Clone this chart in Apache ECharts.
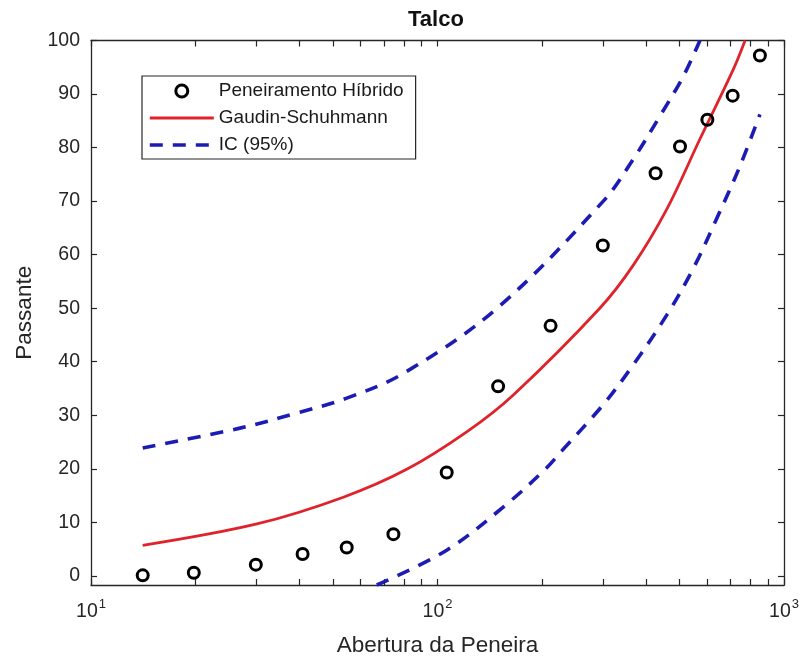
<!DOCTYPE html>
<html>
<head>
<meta charset="utf-8">
<script src="https://cdn.jsdelivr.net/npm/echarts@6/dist/echarts.min.js"></script>
<style>
  html, body { margin: 0; padding: 0; background: #ffffff; }
  #chart { width: 804px; height: 662px; }
</style>
</head>
<body>
<div id="chart"></div>
<script>
// Sieve openings and measured passing fraction (hybrid sieving)
const SIEVE_OPENING = [14.1, 19.8, 29.9, 40.8, 54.7, 74.6, 106.3, 149.6, 212, 300, 426, 501, 601, 711, 852];
const PASSING_MEASURED = [0.1, 0.6, 2.1, 4.1, 5.3, 7.8, 19.3, 35.4, 46.7, 61.7, 75.2, 80.2, 85.2, 89.7, 97.2];

// Gaudin-Schuhmann fitted curve
const FIT_OPENING = [14.1, 30.1, 53.5, 81.5, 122, 165.5, 294, 367, 459, 572, 714, 772];
const FIT_PASSING = [5.7, 9.7, 14.7, 19.9, 27.0, 33.8, 50.0, 58.0, 68.5, 81.6, 94.6, 100.0];

// 95% confidence band
const CI_UPPER_OPENING = [14.1, 26.9, 39.2, 54.7, 79.6, 148, 301, 367, 438.6, 512, 572];
const CI_UPPER_PASSING = [23.9, 27.6, 30.4, 33.2, 37.8, 49.9, 70.0, 77.8, 85.9, 93.3, 100.0];
const CI_LOWER_OPENING = [66.8, 106.3, 158.4, 206.6, 228, 301, 367, 458.6, 547, 639, 747, 852];
const CI_LOWER_PASSING = [-1.7, 4.8, 13.4, 20.2, 23.3, 32.0, 39.4, 48.7, 57.4, 66.7, 76.6, 86.2];

// Axis ticks
const Y_TICKS = [0, 10, 20, 30, 40, 50, 60, 70, 80, 90, 100];
const X_LABEL_TICKS = [10, 100, 1000];
const X_TICKS = [10, 20, 30, 40, 50, 60, 70, 80, 90, 100, 200, 300, 400, 500, 600, 700, 800, 900, 1000];

const TITLE = 'Talco';
const X_NAME = 'Abertura da Peneira';
const Y_NAME = 'Passante';
const NAME_MEASURED = 'Peneiramento Híbrido';
const NAME_FIT = 'Gaudin-Schuhmann';
const NAME_CI = 'IC (95%)';

const pairs = (xs, ys) => xs.map((x, i) => [x, ys[i]]);

const FONT = "'Liberation Sans', Arial, Helvetica, sans-serif";
const INK = '#262626';
const RED = '#e0232b';
const BLUE = '#1c1cb4';

const axisLine = { show: true, onZero: false, lineStyle: { color: INK, width: 1.3 } };
const tickStyle = { show: true, inside: true, length: 6, lineStyle: { color: INK, width: 1.2 } };

const chart = echarts.init(document.getElementById('chart'), null, { renderer: 'canvas' });

chart.setOption({
  backgroundColor: '#ffffff',
  animation: false,
  title: {
    text: TITLE,
    left: 408,
    top: 9,
    padding: 0,
    textStyle: { fontFamily: FONT, fontSize: 22, fontWeight: 'bold', color: '#111111' }
  },
  legend: {
    orient: 'vertical',
    left: 142,
    top: 76,
    padding: [5, 12, 4, 6],
    itemWidth: 64,
    itemHeight: 12,
    itemGap: 7,
    itemTextGap: 5,
    backgroundColor: '#ffffff',
    borderColor: INK,
    borderWidth: 1.2,
    borderRadius: 0,
    itemStyle: { borderWidth: 'inherit' },
    lineStyle: { width: 'inherit' },
    textStyle: { fontFamily: FONT, fontSize: 19, color: '#1a1a1a', lineHeight: 20 },
    data: [
      { name: NAME_MEASURED },
      { name: NAME_FIT, itemStyle: { opacity: 0 } },
      { name: NAME_CI, itemStyle: { opacity: 0 } }
    ]
  },
  grid: { left: 91, right: 20, top: 40.5, bottom: 74, containLabel: false },
  xAxis: [
    {
      type: 'log',
      logBase: 10,
      min: 10,
      max: 1000,
      name: X_NAME,
      nameLocation: 'middle',
      nameGap: 49,
      nameTextStyle: { fontFamily: FONT, fontSize: 22.5, color: INK },
      axisLine: axisLine,
      axisTick: Object.assign({ customValues: X_TICKS }, tickStyle),
      splitLine: { show: false },
      axisLabel: {
        customValues: X_LABEL_TICKS,
        margin: 12.5,
        formatter: function (v) {
          const exp = Math.round(Math.log10(v));
          return '{b|10}{e|' + exp + '}';
        },
        rich: {
          b: { fontFamily: FONT, fontSize: 19.5, color: INK, verticalAlign: 'bottom' },
          e: { fontFamily: FONT, fontSize: 13, color: INK, verticalAlign: 'bottom', padding: [0, 0, 11, 1] }
        }
      }
    },
    {
      type: 'log',
      logBase: 10,
      min: 10,
      max: 1000,
      position: 'top',
      axisLine: axisLine,
      axisTick: Object.assign({ customValues: X_TICKS }, tickStyle),
      axisLabel: { show: false },
      splitLine: { show: false }
    }
  ],
  yAxis: [
    {
      type: 'value',
      min: -1.7,
      max: 100,
      name: Y_NAME,
      nameLocation: 'middle',
      nameGap: 55,
      nameTextStyle: { fontFamily: FONT, fontSize: 22.5, color: INK },
      axisLine: axisLine,
      axisTick: Object.assign({ customValues: Y_TICKS }, tickStyle),
      splitLine: { show: false },
      axisLabel: {
        customValues: Y_TICKS,
        margin: 11,
        fontFamily: FONT,
        fontSize: 19.5,
        color: INK
      }
    },
    {
      type: 'value',
      min: -1.7,
      max: 100,
      position: 'right',
      axisLine: axisLine,
      axisTick: Object.assign({ customValues: Y_TICKS }, tickStyle),
      axisLabel: { show: false },
      splitLine: { show: false }
    }
  ],
  series: [
    {
      name: NAME_FIT,
      type: 'line',
      data: pairs(FIT_OPENING, FIT_PASSING),
      smooth: 0.35,
      symbol: 'none',
      clip: true,
      lineStyle: { color: RED, width: 2.8 },
      itemStyle: { color: RED },
      z: 2
    },
    {
      name: NAME_CI,
      type: 'line',
      data: pairs(CI_UPPER_OPENING, CI_UPPER_PASSING),
      smooth: 0.35,
      symbol: 'none',
      clip: true,
      lineStyle: { color: BLUE, width: 3.6, type: [13, 10] },
      itemStyle: { color: BLUE },
      z: 2
    },
    {
      name: NAME_CI,
      type: 'line',
      data: pairs(CI_LOWER_OPENING, CI_LOWER_PASSING),
      smooth: 0.35,
      symbol: 'none',
      clip: true,
      lineStyle: { color: BLUE, width: 3.6, type: [13, 10] },
      itemStyle: { color: BLUE },
      z: 2
    },
    {
      name: NAME_MEASURED,
      type: 'scatter',
      data: pairs(SIEVE_OPENING, PASSING_MEASURED),
      symbol: 'circle',
      symbolSize: 11,
      itemStyle: { color: 'rgba(255,255,255,0)', borderColor: '#000000', borderWidth: 3, opacity: 1 },
      z: 3
    }
  ]
});
</script>
</body>
</html>
